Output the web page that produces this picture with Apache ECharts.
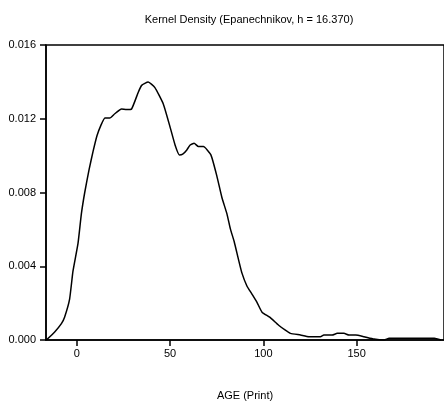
<!DOCTYPE html>
<html>
<head>
<meta charset="utf-8">
<script src="https://cdn.jsdelivr.net/npm/echarts@6/dist/echarts.min.js"></script>
<style>
    html, body { margin: 0; padding: 0; background: #fff; }
    #chart { width: 444px; height: 406px; }
</style>
</head>
<body>
<div id="chart"></div>
<script>
// age grid (x) and estimated density (y)
var ageValues = [-16.3, -11.8, -8.2, -6.5, -3.8, -2.0, 0.7, 2.5, 4.3, 6.6, 8.8, 10.9, 12.9, 15.1, 17.7,
    20.4, 24.0, 26.7, 29.4, 33.0, 34.8, 38.3, 41.9, 46.4, 50.0, 52.7, 55.0, 56.8, 59.0, 60.8,
    62.9, 65.2, 67.9, 71.9, 75.1, 77.8, 80.5, 82.3, 84.4, 86.7, 88.5, 91.2, 93.9, 96.6, 99.3,
    103.4, 108.2, 111.8, 114.5, 119.9, 124.4, 130.6, 132.4, 136.9, 139.6, 143.2, 145.9, 149.5,
    153.9, 159.3, 164.7, 167.4, 191.6, 195.2];
var densityValues = [0, 0.00044, 0.00089, 0.00124, 0.00222, 0.00373, 0.00524, 0.00684, 0.0080, 0.00923,
    0.01024, 0.01109, 0.01163, 0.01204, 0.01204, 0.01227, 0.01253, 0.0125, 0.01253, 0.01344,
    0.01381, 0.01399, 0.01369, 0.0128, 0.01156, 0.01058, 0.01004, 0.01008, 0.01031, 0.01058,
    0.01067, 0.01049, 0.01049, 0.01004, 0.00889, 0.00773, 0.00684, 0.00604, 0.00533, 0.00436,
    0.00364, 0.00293, 0.00249, 0.00204, 0.00151, 0.00124, 0.0008, 0.00053, 0.00036, 0.00027,
    0.00018, 0.00018, 0.00027, 0.00027, 0.00036, 0.00036, 0.00027, 0.00027, 0.00018, 0.00005,
    0, 0.00009, 0.00009, 0];
var xTicks = [0, 50, 100, 150];

var points = ageValues.map(function (a, i) {
    return [a, densityValues[i]];
});

var font = 'Liberation Sans, Arial, sans-serif';
var myChart = echarts.init(document.getElementById('chart'));

var option = {
    animation: false,
    backgroundColor: '#fff',
    title: {
        text: 'Kernel Density (Epanechnikov, h = 16.370)',
        left: 244,
        textAlign: 'center',
        top: 9,
        textStyle: { fontFamily: font, fontSize: 11, fontWeight: 'normal', color: '#000' }
    },
    grid: {
        left: 46,
        right: 0,
        top: 45,
        bottom: 61,
        show: true,
        borderColor: '#000',
        borderWidth: 1.5
    },
    xAxis: {
        type: 'value',
        min: -16.45,
        max: 196.8,
        name: 'AGE (Print)',
        nameLocation: 'middle',
        nameGap: 50,
        nameTextStyle: { fontFamily: font, fontSize: 11, color: '#000' },
        splitLine: { show: false },
        axisLine: { show: true, onZero: false, lineStyle: { color: '#000', width: 1.5 } },
        axisTick: { show: true, inside: false, customValues: xTicks, length: 6, lineStyle: { color: '#000', width: 1.5 } },
        axisLabel: { customValues: xTicks, fontFamily: font, fontSize: 11, color: '#000', margin: 8 }
    },
    yAxis: {
        type: 'value',
        min: 0,
        max: 0.016,
        interval: 0.004,
        splitLine: { show: false },
        axisLine: { show: true, onZero: false, lineStyle: { color: '#000', width: 1.5 } },
        axisTick: { show: true, inside: false, length: 6, lineStyle: { color: '#000', width: 1.5 } },
        axisLabel: {
            fontFamily: font, fontSize: 11, color: '#000', margin: 10,
            padding: [0, 0, 4, 0],
            formatter: function (v) { return v.toFixed(3); }
        }
    },
    series: [{
        type: 'line',
        data: points,
        showSymbol: false,
        smooth: 0.15,
        lineStyle: { color: '#000', width: 1.5 }
    }]
};

myChart.setOption(option);
</script>
</body>
</html>
